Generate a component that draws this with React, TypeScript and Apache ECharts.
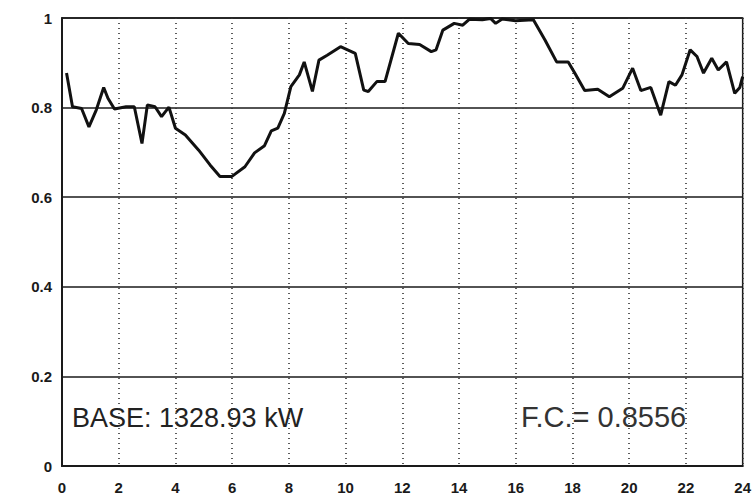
import React, { useEffect, useRef } from "react";
import * as echarts from "echarts";

const hours = [
  0.16, 0.37, 0.69, 0.95, 1.21, 1.47, 1.62, 1.85, 2.26, 2.55, 2.82, 3.01, 3.28, 3.51, 3.77, 4.0,
  4.35, 4.82, 5.22, 5.57, 5.98, 6.45, 6.79, 7.14, 7.38, 7.61, 7.84, 8.07, 8.37, 8.54, 8.83, 9.06,
  9.35, 9.82, 10.34, 10.64, 10.8, 11.1, 11.39, 11.86, 12.21, 12.61, 13.02, 13.19, 13.43, 13.83,
  14.13, 14.36, 14.82, 15.11, 15.29, 15.52, 15.99, 16.62, 17.03, 17.44, 17.85, 18.08, 18.43,
  18.89, 19.3, 19.77, 20.12, 20.41, 20.76, 21.11, 21.4, 21.63, 21.86, 22.15, 22.39, 22.62, 22.91,
  23.14, 23.43, 23.72, 23.9, 24.0,
];

const loadFactor = [
  0.877, 0.802, 0.798, 0.757, 0.795, 0.845, 0.821, 0.797, 0.802, 0.802, 0.72, 0.806, 0.802, 0.78,
  0.801, 0.754, 0.739, 0.705, 0.672, 0.646, 0.646, 0.668, 0.699, 0.715, 0.748, 0.754, 0.787,
  0.847, 0.873, 0.902, 0.836, 0.906, 0.917, 0.936, 0.921, 0.839, 0.836, 0.858, 0.858, 0.966,
  0.943, 0.941, 0.925, 0.929, 0.973, 0.988, 0.984, 0.997, 0.996, 0.999, 0.988, 0.998, 0.994,
  0.996, 0.951, 0.902, 0.902, 0.877, 0.838, 0.841, 0.824, 0.843, 0.888, 0.838, 0.845, 0.783,
  0.858, 0.85, 0.873, 0.929, 0.914, 0.877, 0.91, 0.884, 0.902, 0.832, 0.845, 0.869,
];

const baseText = "BASE: 1328.93 kW";
const fcText = "F.C.= 0.8556";

export default function App() {
  const ref = useRef<HTMLDivElement>(null);

  useEffect(() => {
    if (!ref.current) return;
    const chart = echarts.init(ref.current, null, { renderer: "svg" });
    const data = hours.map((h, i) => [h, loadFactor[i]]);
    chart.setOption({
      animation: false,
      backgroundColor: "#ffffff",
      grid: {
        left: 62,
        right: 6,
        top: 18,
        bottom: 32,
        show: true,
        borderColor: "#1a1a1a",
        borderWidth: 1.5,
        backgroundColor: "transparent",
      },
      xAxis: {
        type: "value",
        min: 0,
        max: 24,
        interval: 2,
        axisLine: { show: true, lineStyle: { color: "#1a1a1a", width: 2 } },
        axisTick: { show: false },
        axisLabel: {
          color: "#1a1a1a",
          fontFamily: "Liberation Sans",
          fontWeight: "bold",
          fontSize: 15,
          margin: 14,
          showMaxLabel: true,
        },
        splitLine: {
          show: true,
          lineStyle: { color: "#333", width: 1.6, type: [1, 4] },
        },
      },
      yAxis: {
        type: "value",
        min: 0,
        max: 1,
        interval: 0.2,
        axisLine: { show: true, lineStyle: { color: "#1a1a1a", width: 2 } },
        axisTick: { show: false },
        axisLabel: {
          color: "#1a1a1a",
          fontFamily: "Liberation Sans",
          fontWeight: "bold",
          fontSize: 15,
          margin: 10,
        },
        splitLine: {
          show: true,
          lineStyle: { color: "#1a1a1a", width: 1.5, type: "solid" },
        },
      },
      series: [
        {
          type: "line",
          data,
          showSymbol: false,
          lineStyle: { color: "#111", width: 3 },
          clip: false,
        },
      ],
      graphic: [
        {
          type: "text",
          left: 72,
          top: 404,
          style: {
            text: baseText,
            fill: "#222",
            font: "normal 27px 'Liberation Sans'",
          },
        },
        {
          type: "text",
          left: 521,
          top: 402,
          style: {
            text: fcText,
            fill: "#333",
            font: "normal 29px 'Liberation Sans'",
          },
        },
      ],
    });
    return () => chart.dispose();
  }, []);

  return <div ref={ref} style={{ width: 754, height: 498, position: "absolute", left: 0, top: 0 }} />;
}
